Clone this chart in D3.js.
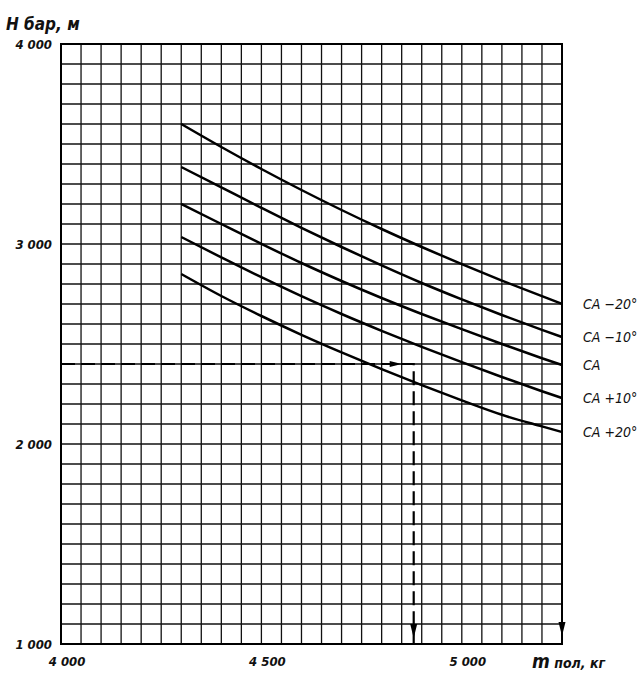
<!DOCTYPE html>
<html><head><meta charset="utf-8">
<script src="https://cdn.jsdelivr.net/npm/d3@7"></script>
<style>
body{margin:0;background:#fff;}
text{font-family:"Liberation Sans Narrow","DejaVu Sans Condensed",sans-serif;font-style:italic;fill:#111;}
</style></head>
<body><svg id="c" width="639" height="678"></svg>
<script>
const massX = [4300, 4400, 4500, 4600, 4700, 4800, 4900, 5000, 5100, 5200, 5250];
const seriesNames = ["CA \u221220\u00b0", "CA \u221210\u00b0", "CA", "CA +10\u00b0", "CA +20\u00b0"];
const caM20 = [3600, 3485, 3375, 3270, 3170, 3075, 2985, 2899, 2817, 2739, 2701];
const caM10 = [3385, 3283, 3181, 3081, 2985, 2893, 2805, 2723, 2645, 2571, 2535];
const ca0   = [3200, 3100, 3001, 2905, 2815, 2730, 2650, 2574, 2500, 2429, 2395];
const caP10 = [3035, 2933, 2834, 2739, 2650, 2566, 2486, 2409, 2335, 2264, 2230];
const caP20 = [2850, 2740, 2640, 2546, 2458, 2374, 2294, 2218, 2146, 2088, 2060];
const seriesValues = [caM20, caM10, ca0, caP10, caP20];
const xTicks = [4000, 4500, 5000];
const xTickLabels = ["4 000", "4 500", "5 000"];
const yTicks = [1000, 2000, 3000, 4000];
const yTickLabels = ["1 000", "2 000", "3 000", "4 000"];
const exampleH = 2400;
const exampleM = 4880;

const svg = d3.select("#c");
const x = d3.scaleLinear().domain([4000, 5250]).range([61, 562]);
const y = d3.scaleLinear().domain([1000, 4000]).range([644, 44]);

// grid
const g = svg.append("g");
g.selectAll("line.v").data(d3.range(4000, 5250.1, 50)).join("line")
  .attr("x1", d => x(d)).attr("x2", d => x(d)).attr("y1", y(4000)).attr("y2", y(1000))
  .attr("stroke", "#111").attr("stroke-width", 1.3);
g.selectAll("line.h").data(d3.range(1000, 4000.1, 100)).join("line")
  .attr("x1", x(4000)).attr("x2", x(5250)).attr("y1", d => y(d)).attr("y2", d => y(d))
  .attr("stroke", "#111").attr("stroke-width", 1.3);
g.append("rect").attr("x", x(4000)).attr("y", y(4000))
  .attr("width", x(5250) - x(4000)).attr("height", y(1000) - y(4000))
  .attr("fill", "none").attr("stroke", "#000").attr("stroke-width", 2);

// curves
const line = d3.line().x((d, i) => x(massX[i])).y(d => y(d)).curve(d3.curveMonotoneX);
svg.selectAll("path.s").data(seriesValues).join("path")
  .attr("d", d => line(d)).attr("fill", "none").attr("stroke", "#000").attr("stroke-width", 2.5);

// legend labels at right end
svg.selectAll("text.lab").data(seriesValues).join("text")
  .attr("x", 583).attr("y", d => y(d[d.length - 1]) + 5)
  .attr("font-size", 14).text((d, i) => seriesNames[i]);

// dashed example
svg.append("path")
  .attr("d", `M${x(4000)},${y(exampleH)}H${x(exampleM)}V${y(1000)}`)
  .attr("fill", "none").attr("stroke", "#000").attr("stroke-width", 2.2)
  .attr("stroke-dasharray", "14,6");
const arrow = (cx, cy, dir) => {
  const p = dir === "down"
    ? `M${cx - 3.5},${cy - 14}L${cx + 3.5},${cy - 14}L${cx},${cy}Z`
    : `M${cx - 12},${cy - 3}L${cx - 12},${cy + 3}L${cx},${cy}Z`;
  svg.append("path").attr("d", p).attr("fill", "#000");
};
arrow(x(4850), y(exampleH), "right");
arrow(x(exampleM), y(1000) - 6, "down");
arrow(x(5250), y(1000) - 8, "down");

// axis labels
svg.selectAll("text.yt").data(yTicks).join("text")
  .attr("x", 52).attr("y", d => y(d) + 5).attr("text-anchor", "end")
  .attr("font-size", 13).attr("font-weight", "bold").text((d, i) => yTickLabels[i]);
svg.selectAll("text.xt").data(xTicks).join("text")
  .attr("x", d => x(d) + 6).attr("y", 666).attr("text-anchor", "middle")
  .attr("font-size", 13).attr("font-weight", "bold").text((d, i) => xTickLabels[i]);
svg.append("text").attr("x", 6).attr("y", 30).attr("font-size", 17)
  .attr("font-weight", "bold").text("H бар, м");
svg.append("text").attr("x", 532).attr("y", 668).attr("font-size", 14)
  .attr("font-weight", "bold")
  .html('<tspan font-size="19">m</tspan> пол, кг');
</script></body></html>
